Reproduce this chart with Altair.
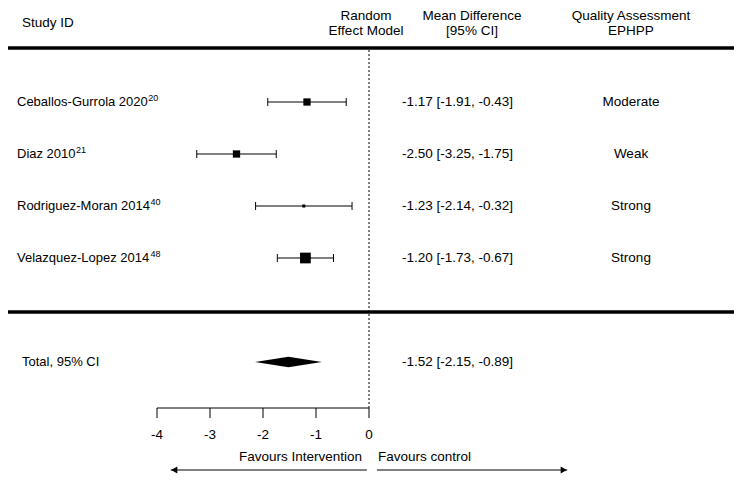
import altair as alt
import pandas as pd

# ---------------- data ----------------
studies = ["Ceballos-Gurrola 2020", "Diaz 2010", "Rodriguez-Moran 2014", "Velazquez-Lopez 2014"]
refs = ["20", "21", "40", "48"]
means = [-1.17, -2.50, -1.23, -1.20]
lowers = [-1.91, -3.25, -2.14, -1.73]
uppers = [-0.43, -1.75, -0.32, -0.67]
weights = [23, 23, 4, 50]
quality = ["Moderate", "Weak", "Strong", "Strong"]
total_label = "Total, 95% CI"
total_mean, total_lower, total_upper = -1.52, -2.15, -0.89
ticks = [-4, -3, -2, -1, 0]
headers_center = ["Random", "Effect Model", "Mean Difference", "[95% CI]",
                  "Quality Assessment", "EPHPP"]

# ---------------- layout ----------------
FONT = "Liberation Sans, Arial, sans-serif"
FS = 13.5
FS_NAME = 13
FS_SUP = 9
W, H = 726, 470
MARGIN = 8
PX_PER_UNIT = 53.0
X0_PAGE = 369.0
ROW0_PAGE = 102.0
ROW_STEP = 52.0

# Arial / Liberation Sans advance widths (per 1000 em) used to place superscripts
AW = {" ": 278, "-": 333, "C": 722, "D": 722, "G": 778, "L": 556, "M": 833,
      "R": 722, "V": 667, "a": 556, "b": 556, "c": 500, "d": 556, "e": 556,
      "g": 556, "i": 222, "l": 222, "n": 556, "o": 556, "p": 556, "q": 556,
      "r": 333, "s": 500, "u": 556, "z": 500}
for d in "0123456789":
    AW[d] = 556


def text_w(s, fs):
    return sum(AW.get(c, 556) for c in s) * fs / 1000.0


x_min = -(X0_PAGE - MARGIN) / PX_PER_UNIT
x_max = x_min + W / PX_PER_UNIT
y_min = -(ROW0_PAGE - MARGIN) / ROW_STEP
y_max = y_min + H / ROW_STEP


def row(page_y):
    return (page_y - ROW0_PAGE) / ROW_STEP


def px(page_x):
    return page_x - MARGIN


xs = alt.Scale(domain=[x_min, x_max], nice=False, zero=False)
ys = alt.Scale(domain=[y_min, y_max], nice=False, zero=False, reverse=True)


def X(f):
    return alt.X(f, type="quantitative", scale=xs, axis=None)


def Y(f):
    return alt.Y(f, type="quantitative", scale=ys, axis=None)


NAME_X = 17
TOTAL_ROW = 5
study_df = pd.DataFrame({
    "name": studies, "ref": refs, "mean": means, "lo": lowers, "hi": uppers,
    "weight": weights, "quality": quality,
    "row": list(range(len(studies))),
})
study_df["ci"] = [f"{m:.2f} [{l:.2f}, {u:.2f}]" for m, l, u in zip(means, lowers, uppers)]
study_df["supx"] = [px(NAME_X) + text_w(s, FS_NAME) + 0.5 for s in studies]

caps_df = pd.DataFrame({
    "v": lowers + uppers,
    "row": list(range(len(studies))) * 2,
})

# header
head_left = alt.Chart(pd.DataFrame({"t": ["Study ID"], "r": [row(23)]})).mark_text(
    font=FONT, fontSize=FS, align="left", baseline="middle", color="black"
).encode(x=alt.value(px(22)), y=Y("r"), text="t:N")

head_c_df = pd.DataFrame({
    "t": headers_center,
    "xp": [px(366), px(366), px(472), px(472), px(631), px(631)],
    "r": [row(16), row(31)] * 3,
})
head_center = alt.Chart(head_c_df).mark_text(
    font=FONT, fontSize=FS, align="center", baseline="middle", color="black"
).encode(x=alt.X("xp:Q", scale=None, axis=None), y=Y("r"), text="t:N")

thick = alt.Chart(pd.DataFrame({"r": [row(48), row(312)]})).mark_rule(
    strokeWidth=3.5, color="black"
).encode(x=alt.value(0), x2=alt.value(W), y=Y("r"))

dotted = alt.Chart(pd.DataFrame({"v": [0], "r1": [row(50)], "r2": [row(408)]})).mark_rule(
    strokeDash=[2, 2], strokeWidth=1, color="black"
).encode(x=X("v"), y=Y("r1"), y2="r2")

ci_lines = alt.Chart(study_df).mark_rule(strokeWidth=1, color="black").encode(
    x=X("lo"), x2="hi", y=Y("row"))

caps = alt.Chart(caps_df).mark_rule(
    strokeWidth=1, color="black", yOffset=-4, y2Offset=4
).encode(x=X("v"), y=Y("row"), y2="row")

squares = alt.Chart(study_df).mark_square(filled=True, color="black", opacity=1).encode(
    x=X("mean"), y=Y("row"),
    size=alt.Size("weight:Q", scale=alt.Scale(domain=[0, 50], range=[0, 115]), legend=None))

names = alt.Chart(study_df).mark_text(
    font=FONT, fontSize=FS_NAME, align="left", baseline="middle", color="black"
).encode(x=alt.value(px(NAME_X)), y=Y("row"), text="name:N")

sups = alt.Chart(study_df).mark_text(
    font=FONT, fontSize=FS_SUP, align="left", baseline="middle", color="black", dy=-4
).encode(x=alt.X("supx:Q", scale=None, axis=None), y=Y("row"), text="ref:N")

ci_text = alt.Chart(study_df).mark_text(
    font=FONT, fontSize=FS, align="left", baseline="middle", color="black"
).encode(x=alt.value(px(402)), y=Y("row"), text="ci:N")

qual_text = alt.Chart(study_df).mark_text(
    font=FONT, fontSize=FS, align="center", baseline="middle", color="black"
).encode(x=alt.value(px(631)), y=Y("row"), text="quality:N")

# total
half_h = 5.3 / ROW_STEP
diamond_df = pd.DataFrame({
    "x": [total_lower, total_mean, total_upper],
    "top": [TOTAL_ROW, TOTAL_ROW - half_h, TOTAL_ROW],
    "bot": [TOTAL_ROW, TOTAL_ROW + half_h, TOTAL_ROW],
})
diamond = alt.Chart(diamond_df).mark_area(color="black", opacity=1).encode(
    x=X("x"), y=Y("top"), y2="bot")

total_df = pd.DataFrame({
    "label": [total_label],
    "ci": [f"{total_mean:.2f} [{total_lower:.2f}, {total_upper:.2f}]"],
    "row": [TOTAL_ROW],
})
total_name = alt.Chart(total_df).mark_text(
    font=FONT, fontSize=FS_NAME, align="left", baseline="middle", color="black"
).encode(x=alt.value(px(22)), y=Y("row"), text="label:N")
total_ci = alt.Chart(total_df).mark_text(
    font=FONT, fontSize=FS, align="left", baseline="middle", color="black"
).encode(x=alt.value(px(402)), y=Y("row"), text="ci:N")

# axis
axis_line = alt.Chart(pd.DataFrame({"a": [min(ticks)], "b": [max(ticks)], "r": [row(408)]})).mark_rule(
    strokeWidth=1, color="black").encode(x=X("a"), x2="b", y=Y("r"))
tick_df = pd.DataFrame({"v": ticks, "r1": row(408), "r2": row(418),
                        "rl": row(435), "lab": [str(t) for t in ticks]})
tick_marks = alt.Chart(tick_df).mark_rule(strokeWidth=1, color="black").encode(
    x=X("v"), y=Y("r1"), y2="r2")
tick_labels = alt.Chart(tick_df).mark_text(
    font=FONT, fontSize=FS, align="center", baseline="middle", color="black"
).encode(x=X("v"), y=Y("rl"), text="lab:N")

# favours
fav_df = pd.DataFrame({"v": [0], "r": [row(457)]})
fav_left = alt.Chart(fav_df).mark_text(
    font=FONT, fontSize=FS, align="right", baseline="middle", color="black", dx=-7
).encode(x=X("v"), y=Y("r"), text=alt.value("Favours Intervention"))
fav_right = alt.Chart(fav_df).mark_text(
    font=FONT, fontSize=FS, align="left", baseline="middle", color="black", dx=9
).encode(x=X("v"), y=Y("r"), text=alt.value("Favours control"))

arrow_r = row(470)
arrow_df = pd.DataFrame({"a": [-3.74, 0.15], "b": [-0.04, 3.74], "r": [arrow_r, arrow_r]})
arrow_lines = alt.Chart(arrow_df).mark_rule(strokeWidth=1, color="black").encode(
    x=X("a"), x2="b", y=Y("r"))
head_l = alt.Chart(pd.DataFrame({"v": [-3.74], "r": [arrow_r]})).mark_point(
    shape="triangle-left", filled=True, size=50, color="black", opacity=1, xOffset=3.5
).encode(x=X("v"), y=Y("r"))
head_r = alt.Chart(pd.DataFrame({"v": [3.74], "r": [arrow_r]})).mark_point(
    shape="triangle-right", filled=True, size=50, color="black", opacity=1, xOffset=-3.5
).encode(x=X("v"), y=Y("r"))

chart = alt.layer(
    thick, dotted, head_left, head_center, ci_lines, caps, squares, names, sups, ci_text,
    qual_text, diamond, total_name, total_ci, axis_line, tick_marks, tick_labels,
    fav_left, fav_right, arrow_lines, head_l, head_r
).properties(
    width=W, height=H, padding=0, autosize="none", background="white"
).configure_view(stroke=None)

chart.save("out.html", embed_options={"renderer": "svg", "actions": False})
